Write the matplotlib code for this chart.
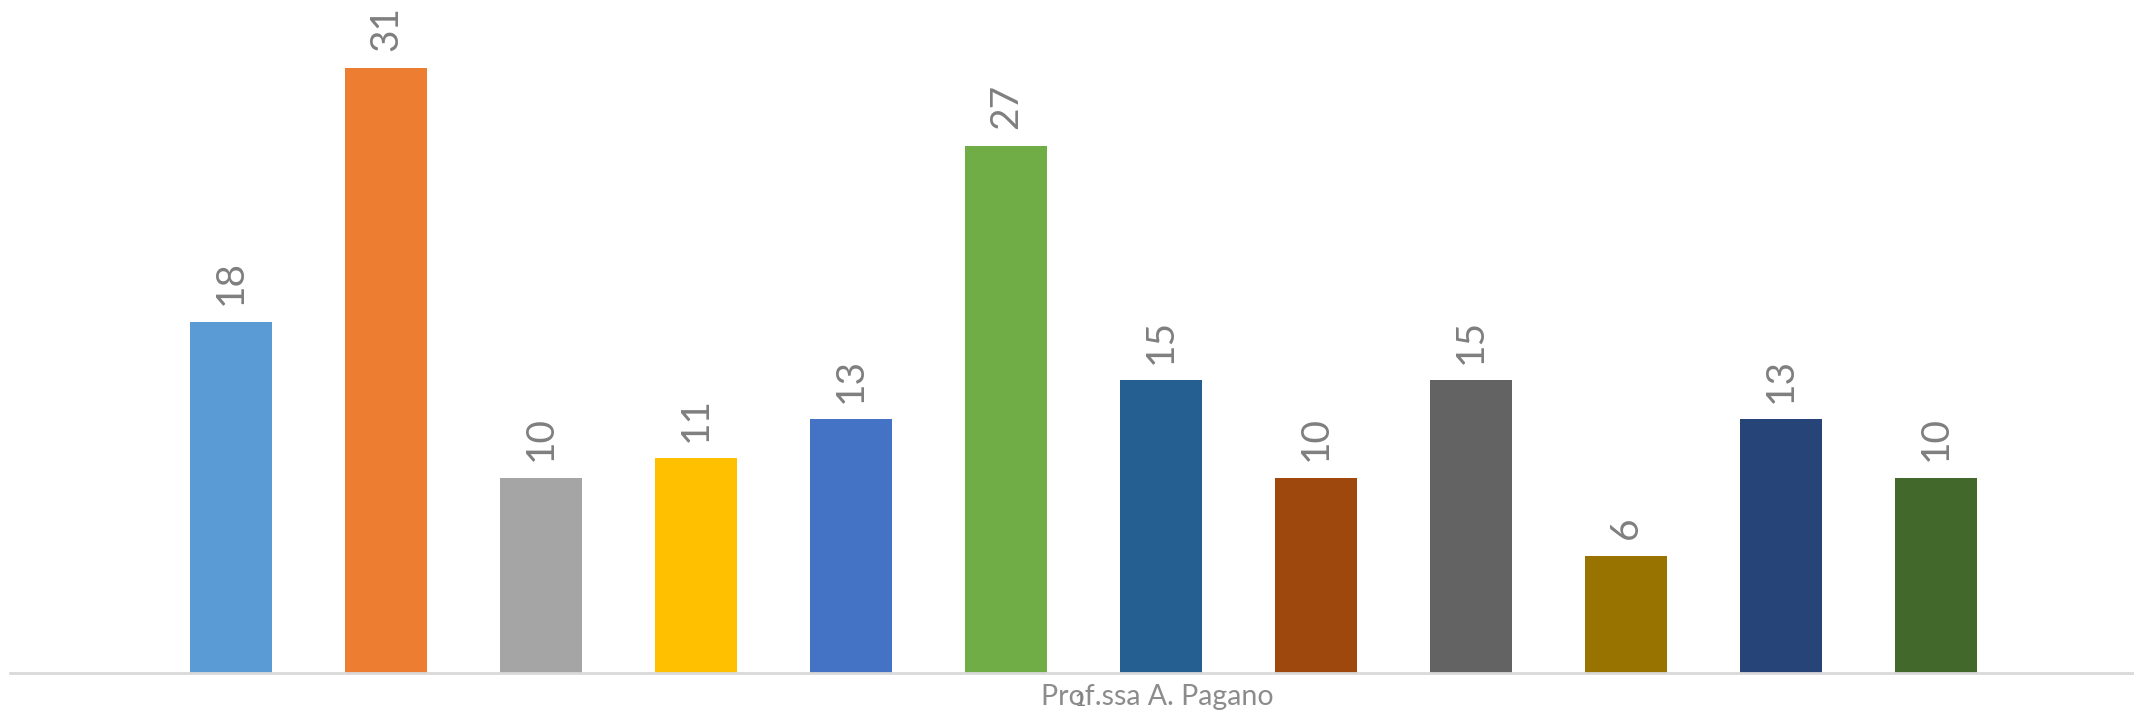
import matplotlib
matplotlib.use("Agg")
import matplotlib.pyplot as plt

plt.rcParams['font.family'] = ['Lato', 'DejaVu Sans']

series = ["S1", "S2", "S3", "S4", "S5", "S6", "S7", "S8", "S9", "S10", "S11", "S12"]
values = [18, 31, 10, 11, 13, 27, 15, 10, 15, 6, 13, 10]
colors = ["#5B9BD5", "#ED7D31", "#A5A5A5", "#FFC000", "#4472C4", "#70AD47",
          "#255E91", "#9E480E", "#636363", "#997300", "#264478", "#43682B"]
category = "1"
footer = "Prof.ssa A. Pagano"

W, H = 2134, 715
fig = plt.figure(figsize=(W / 100, H / 100), dpi=100)
ax = fig.add_axes([10 / W, 1 - 673 / H, 1 - 10 / W, 673 / H])

x = list(range(len(values)))
bars = ax.bar(x, values, width=0.529, color=colors)

# rotated value labels above each bar
for xi, v in zip(x, values):
    ax.annotate(str(v), (xi, v), xytext=(0, 12), textcoords="offset points",
                rotation=90, ha="center", va="bottom", fontsize=28, color="#7f7f7f")

ax.set_xlim(-1.426, 12.28)
ax.set_ylim(0, 34.48)

for s in ["top", "right", "left"]:
    ax.spines[s].set_visible(False)
ax.spines["bottom"].set_color("#d9d9d9")
ax.spines["bottom"].set_linewidth(2)
ax.set_xticks([])
ax.set_yticks([])

fig.text(1157 / W, 1 - 697 / H, footer, ha="center", va="center", fontsize=20.5, color="#8c8c8c")
fig.text(1080 / W, 1 - 700 / H, category, ha="center", va="center", fontsize=14, color="#7f7f7f")

fig.savefig("out.png", dpi=100)
